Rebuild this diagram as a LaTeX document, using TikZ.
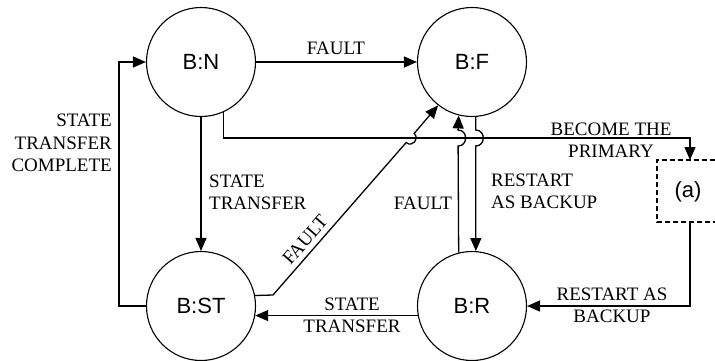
\documentclass[tikz,border=0pt]{standalone}
\usepackage{fontspec}
\setmainfont{Liberation Serif}
\newfontfamily\statefont{Liberation Sans}
\usetikzlibrary{arrows.meta,calc}

\begin{document}
\begin{tikzpicture}[x=1pt,y=-1pt,
  state/.style={circle,draw,line width=1.1pt,minimum size=109pt,inner sep=0pt,
                font=\statefont\fontsize{22}{26}\selectfont},
  lbl/.style={inner sep=0pt,font=\fontsize{19}{22.5}\selectfont},
  conn/.style={line width=1.3pt},
  arr/.style={conn,-{Triangle[length=13pt,width=11pt]}},
  dashbox/.style={line width=1.3pt,dash pattern=on 5pt off 3pt},
]
\useasboundingbox (0,0) rectangle (715,360);

% states
\node[state] (bn)  at (201,62)  {B:N};
\node[state] (bf)  at (472,62)  {B:F};
\node[state] (bst) at (201,306) {B:ST};
\node[state] (br)  at (472,306) {B:R};

% sub-diagram (a), open to the right
\node[font=\statefont\fontsize{22}{26}\selectfont] (a) at (688,192) {(a)};
\draw[dashbox] (715,160) -- (657,160) -- (657,222) -- (715,222);
\coordinate (atop) at (690,160);
\coordinate (abot) at (690,222);
\coordinate (bus)  at (0,138);

% transitions
\draw[arr] (bn.east) -- (bf.west);
\draw[arr] (bn.south) -- (bst.north);
\draw[arr] (bst.west) -| ([xshift=-27pt]bn.west) -- (bn.west);
\draw[arr] (br.190.6) -- (bst.-10.6);
\draw[arr] (bst.11.6) -- (273,295) -- (406.2,142.5)
           .. controls (412.2,147.8) and (420.1,138.8) .. (414.1,133.5) -- (bf.232.5);
\draw[arr] (br.104.8) -- (458.1,146) .. controls (468.1,146) and (468.1,130) .. (458.1,130)
           -- (bf.-104.8);
\draw[arr] (bf.-86) -- (475.8,130) .. controls (485.8,130) and (485.8,146) .. (475.8,146)
           -- (br.86);
\draw[arr] (bn.-66) |- (atop |- bus) -- (atop);
\draw[arr] (abot) |- (br.east);

% transition labels
\node[lbl] (l1) at (336,48) {FAULT};
\node[lbl,anchor=east,align=right] (l2) at (112,143) {STATE\\TRANSFER\\COMPLETE};
\node[lbl,anchor=west,align=left] (l3) at (209,192.5) {STATE\\TRANSFER};
\node[lbl,rotate=48.8] (l4) at (305,240) {FAULT};
\node[lbl] (l5) at (423,203) {FAULT};
\node[lbl,anchor=west,align=left] (l6) at (491,191.5) {RESTART\\AS BACKUP};
\node[lbl,align=center] (l7) at (611,140) {BECOME THE\\PRIMARY};
\node[lbl,align=center] (l8) at (612,305.5) {RESTART AS\\BACKUP};
\node[lbl,align=center] (l9) at (352,315.5) {STATE\\TRANSFER};
\end{tikzpicture}
\end{document}
